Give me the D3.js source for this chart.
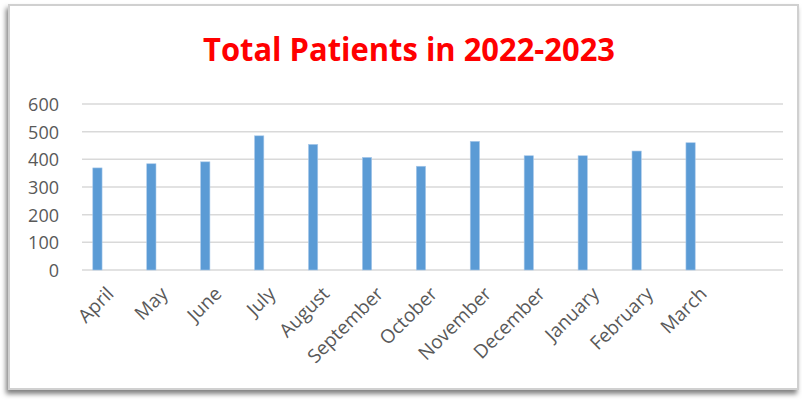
<!DOCTYPE html>
<html>
<head>
<meta charset="utf-8">
<script src="https://cdn.jsdelivr.net/npm/d3@7"></script>
<style>
  body { margin: 0; background: #fff; }
  svg text { font-family: "Open Sans", "Noto Sans", sans-serif; }
</style>
</head>
<body>
<div id="chart"></div>
<script>
const months = ['April', 'May', 'June', 'July', 'August', 'September', 'October',
  'November', 'December', 'January', 'February', 'March'];
const patients = [369, 384, 391, 485, 454, 407, 375, 465, 413, 413, 430, 460];
const yTicks = [0, 100, 200, 300, 400, 500, 600];
const title = 'Total Patients in 2022-2023';

const width = 802, height = 401;
const margin = { top: 104, right: 19, bottom: 131, left: 82 };

const svg = d3.select('#chart').append('svg')
  .attr('width', width)
  .attr('height', height);

// frame with soft shadow at the bottom / left
const defs = svg.append('defs');
const shadow = defs.append('filter').attr('id', 'shadow')
  .attr('x', '-5%').attr('y', '-5%').attr('width', '110%').attr('height', '115%');
shadow.append('feDropShadow')
  .attr('dx', -2).attr('dy', 4).attr('stdDeviation', 2.5)
  .attr('flood-color', '#000').attr('flood-opacity', 0.5);

svg.append('rect')
  .attr('x', 9).attr('y', 5)
  .attr('width', 789).attr('height', 384)
  .attr('fill', '#fff')
  .attr('stroke', '#d0d0d0')
  .attr('stroke-width', 2)
  .attr('filter', 'url(#shadow)');

svg.append('text')
  .attr('x', 203)
  .attr('y', 61)
  .attr('textLength', 412)
  .attr('lengthAdjust', 'spacingAndGlyphs')
  .attr('fill', '#ff0000')
  .attr('font-size', 32)
  .attr('font-weight', 'bold')
  .text(title);

const plotWidth = width - margin.left - margin.right;
const plotHeight = height - margin.top - margin.bottom;

const g = svg.append('g')
  .attr('transform', `translate(${margin.left},${margin.top})`);

// one empty slot after March, as in the original
const x = d3.scaleBand()
  .domain([...months, ''])
  .range([0, plotWidth]);

const y = d3.scaleLinear()
  .domain([0, 600])
  .range([plotHeight, 0]);

// gridlines
g.append('g')
  .selectAll('line')
  .data(yTicks)
  .join('line')
  .attr('x1', 0)
  .attr('x2', plotWidth)
  .attr('y1', d => y(d))
  .attr('y2', d => y(d))
  .attr('stroke', '#d9d9d9')
  .attr('stroke-width', 1.5);

const yAxis = g.append('g')
  .attr('transform', 'translate(-23,0)')
  .call(d3.axisLeft(y).tickValues(yTicks).tickSize(0).tickPadding(0));
yAxis.select('.domain').remove();
yAxis.selectAll('text')
  .attr('fill', '#595959')
  .attr('font-size', 18)
  .attr('dy', '0.36em');

// bars
const barOffset = x.bandwidth() * 0.2;
const barWidth = x.bandwidth() * 0.172;
g.append('g')
  .selectAll('rect')
  .data(patients)
  .join('rect')
  .attr('x', (d, i) => x(months[i]) + barOffset)
  .attr('y', d => y(d))
  .attr('width', barWidth)
  .attr('height', d => y(0) - y(d))
  .attr('fill', '#5b9bd5')
  .attr('stroke', '#a9c9ea')
  .attr('stroke-width', 0.6);

// month labels rotated like Excel
const xAxis = g.append('g')
  .attr('transform', `translate(0,${plotHeight})`)
  .call(d3.axisBottom(x).tickValues(months).tickSize(0).tickPadding(0));
xAxis.select('.domain').remove();
xAxis.selectAll('text')
  .attr('fill', '#595959')
  .attr('font-size', 19)
  .attr('text-anchor', 'end')
  .attr('dy', 0)
  .attr('transform', 'translate(6,25) rotate(-45)');
</script>
</body>
</html>
